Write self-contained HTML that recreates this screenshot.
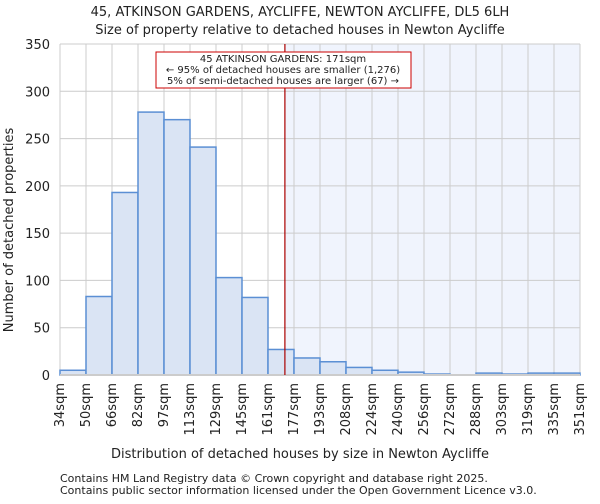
<!DOCTYPE html>
<html><head><meta charset="utf-8"><style>
body{margin:0;background:#fff;font-family:"DejaVu Sans","Liberation Sans",sans-serif}
svg text{font-family:"DejaVu Sans","Liberation Sans",sans-serif;fill:#222}
</style></head><body>
<svg id="c" width="600" height="500"></svg>
<script>
const binLabels=["34sqm","50sqm","66sqm","82sqm","97sqm","113sqm","129sqm","145sqm","161sqm","177sqm","193sqm","208sqm","224sqm","240sqm","256sqm","272sqm","288sqm","303sqm","319sqm","335sqm","351sqm"];
const counts=[5,83,193,278,270,241,103,82,27,18,14,8,5,3,1,0,2,1,2,2];
const yTicks=[0,50,100,150,200,250,300,350];
const propertyBinPos=8.65;
const NS="http://www.w3.org/2000/svg";
const svg=document.getElementById('c');
const L=60,R=580,T=44,B=375,yMax=350;
const bw=(R-L)/counts.length;
const xs=i=>L+i*bw;
const ys=v=>B-v/yMax*(B-T);
function el(t,a,p){const e=document.createElementNS(NS,t);for(const k in a)e.setAttribute(k,a[k]);(p||svg).appendChild(e);return e;}
const px=xs(propertyBinPos);
const sh=el('rect',{x:px,y:T,width:R-px,height:B-T,fill:'#f0f4fd'});


yTicks.forEach(v=>{
 const g=el('line',{x1:L,x2:R,y1:ys(v),y2:ys(v),stroke:'#cccccc','stroke-width':1});
 
 
 const t=el('text',{x:L-10,y:ys(v)+5,'text-anchor':'end','font-size':13});
 t.textContent=v;
 
 
});
binLabels.forEach((s,i)=>{
 const g=el('line',{x1:xs(i),x2:xs(i),y1:T,y2:B,stroke:'#cccccc','stroke-width':1});
 
 
 const x=xs(i),y=B+8;
 const t=el('text',{x:x+4,y:y,'text-anchor':'end','font-size':13,transform:`rotate(-90 ${x+4} ${y})`});
 t.textContent=s;
 
 
});
counts.forEach((v,i)=>{
 const r=el('rect',{x:xs(i),y:ys(v),width:bw,height:B-ys(v),fill:'#dae4f4',stroke:'#5b8fd4','stroke-width':1.5});
 
 
});
const ax=el('line',{x1:L,x2:R,y1:B,y2:B,stroke:'#cccccc','stroke-width':2});


const pl=el('line',{x1:px,x2:px,y1:T,y2:B,stroke:'#aa0000','stroke-width':1.2});


</script>
<svg width="600" height="500" style="position:absolute;left:0;top:0">
<rect x="156" y="52" width="255" height="36" fill="#fff" stroke="#cc0000" stroke-width="1"/>
<text x="283" y="62" text-anchor="middle" font-size="10">45 ATKINSON GARDENS: 171sqm</text>
<text x="283" y="73" text-anchor="middle" font-size="10">← 95% of detached houses are smaller (1,276)</text>
<text x="283" y="84" text-anchor="middle" font-size="10">5% of semi-detached houses are larger (67) →</text>
<text x="300" y="16" text-anchor="middle" font-size="13">45, ATKINSON GARDENS, AYCLIFFE, NEWTON AYCLIFFE, DL5 6LH</text>
<text x="300" y="34" text-anchor="middle" font-size="13">Size of property relative to detached houses in Newton Aycliffe</text>
<text x="300" y="458" text-anchor="middle" font-size="13">Distribution of detached houses by size in Newton Aycliffe</text>
<text x="13" y="230" text-anchor="middle" font-size="13" transform="rotate(-90 13 230)">Number of detached properties</text>
<text x="60" y="482" font-size="11" fill="#444">Contains HM Land Registry data © Crown copyright and database right 2025.</text>
<text x="60" y="494" font-size="11" fill="#444">Contains public sector information licensed under the Open Government Licence v3.0.</text>
</svg>
</body></html>
